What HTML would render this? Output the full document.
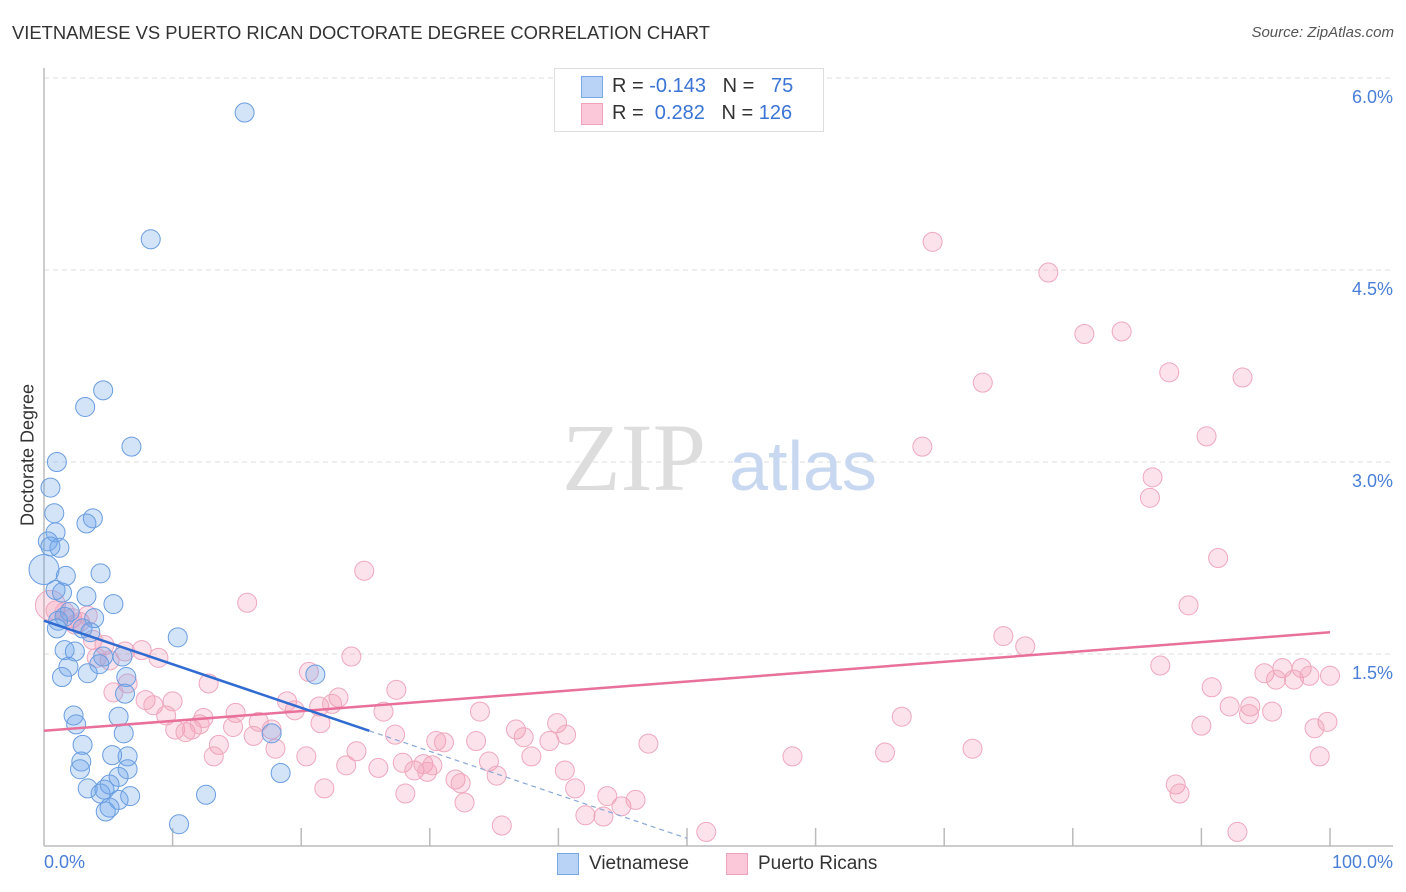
<!DOCTYPE html>
<html><head><meta charset="utf-8"><style>
body{margin:0;background:#fff;font-family:"Liberation Sans",sans-serif;}
#wrap{position:relative;width:1406px;height:892px;overflow:hidden;}
.t{position:absolute;white-space:nowrap;}
</style></head><body>
<div id="wrap">
<div class="t" style="left:12px;top:22px;font-size:18.4px;color:#333;">VIETNAMESE VS PUERTO RICAN DOCTORATE DEGREE CORRELATION CHART</div>
<div class="t" style="right:12px;top:24px;font-size:15px;color:#555;font-style:italic;">Source: ZipAtlas.com</div>
<svg id="svg" width="1406" height="892" style="position:absolute;left:0;top:0"></svg>
</div>
<script>
const blueX=[15.6,8.3,4.6,3.2,6.8,1.0,0.5,0.8,3.8,3.3,0.9,0.3,1.2,0.5,4.4,1.7,0.0,0.9,1.4,3.3,5.4,2.0,1.6,1.1,3.9,1.0,3.0,10.4,3.6,1.6,2.4,4.6,6.1,4.3,1.9,3.4,1.4,6.4,21.1,6.3,2.3,2.5,5.8,6.2,17.7,3.0,2.9,6.5,5.3,2.8,6.5,5.8,3.4,4.7,4.4,5.1,5.8,6.7,12.6,18.4,4.8,5.1,10.5];
const blueY=[5.73,4.74,3.56,3.43,3.12,3.00,2.80,2.60,2.56,2.52,2.45,2.38,2.33,2.34,2.13,2.11,2.16,2.00,1.98,1.95,1.89,1.83,1.79,1.76,1.78,1.70,1.70,1.63,1.67,1.53,1.52,1.48,1.48,1.42,1.40,1.35,1.32,1.32,1.34,1.19,1.02,0.95,1.01,0.88,0.88,0.79,0.66,0.70,0.71,0.60,0.60,0.54,0.45,0.44,0.41,0.48,0.36,0.39,0.40,0.57,0.27,0.30,0.17];
const pinkX=[69.1,78.1,80.9,83.8,73.0,87.5,93.2,68.3,90.4,86.2,86.0,91.3,24.9,15.8,89.0,74.6,76.3,86.8,94.9,96.3,97.8,100.0,95.8,97.2,98.4,90.8,92.2,93.8,95.5,93.7,99.8,90.0,98.8,99.2,88.0,88.3,92.8,66.7,72.2,65.4,58.2,47.0,51.5,0.5,0.9,1.6,2.2,2.8,3.4,2.4,3.8,4.7,4.1,5.1,6.3,7.6,8.9,6.5,5.4,12.8,7.9,8.5,10.0,9.5,10.2,11.0,11.5,12.1,12.4,13.6,13.2,14.9,14.7,16.7,16.3,18.0,17.7,18.9,19.5,20.6,21.4,22.9,22.4,23.9,21.5,20.4,21.8,24.3,23.5,26.0,26.4,27.4,27.3,28.1,27.9,28.8,29.5,29.8,30.2,30.5,31.1,32.0,32.4,32.7,33.6,33.9,34.6,35.2,35.6,36.7,37.3,37.9,39.3,39.9,40.5,40.6,41.3,42.1,43.5,43.8,44.9,46.0];
const pinkY=[4.72,4.48,4.00,4.02,3.62,3.70,3.66,3.12,3.20,2.88,2.72,2.25,2.15,1.90,1.88,1.64,1.56,1.41,1.35,1.39,1.39,1.33,1.30,1.30,1.33,1.24,1.09,1.09,1.05,1.03,0.97,0.94,0.92,0.70,0.48,0.41,0.11,1.01,0.76,0.73,0.70,0.80,0.11,1.88,1.84,1.83,1.78,1.75,1.80,1.73,1.61,1.57,1.47,1.45,1.52,1.53,1.47,1.27,1.20,1.27,1.14,1.10,1.13,1.02,0.91,0.89,0.91,0.95,1.00,0.79,0.70,1.04,0.93,0.97,0.86,0.76,0.91,1.13,1.06,1.36,1.09,1.16,1.11,1.48,0.96,0.70,0.45,0.74,0.63,0.61,1.05,1.22,0.87,0.41,0.65,0.59,0.64,0.58,0.63,0.82,0.81,0.52,0.49,0.34,0.82,1.05,0.66,0.55,0.16,0.91,0.85,0.70,0.82,0.96,0.59,0.87,0.45,0.24,0.23,0.39,0.31,0.36];
const yTicks=[1.5,3.0,4.5,6.0];
const yTickLabels=["1.5%","3.0%","4.5%","6.0%"];
const blueTrend=[1.76,-0.034]; // intercept, slope
const pinkTrend=[0.90,0.0077];
const blueSolidEnd=25.3, blueDashEnd=50;
const blueBigIdx=16, pinkBigIdx=43;

const X0=44,X1=1330,Y0=846,PY=128;
const sx=v=>X0+(X1-X0)*v/100;
const sy=v=>Y0-PY*v;
const svg=document.getElementById('svg');
const NS='http://www.w3.org/2000/svg';
function mk(tag,attrs){const e=document.createElementNS(NS,tag);for(const k in attrs)e.setAttribute(k,attrs[k]);svg.appendChild(e);return e;}

yTicks.forEach((t,i)=>{
  const g=mk('line',{x1:X0,x2:1393,y1:sy(t),y2:sy(t),stroke:'#ddd','stroke-dasharray':'5,4'});
  
  
  const tx=mk('text',{x:1393,y:sy(t)+25,'text-anchor':'end','font-size':18,fill:'#4a7fd8','font-family':'Liberation Sans, sans-serif'});
  tx.textContent=yTickLabels[i];
  
  
});
let a=mk('line',{x1:X0,x2:X0,y1:68,y2:Y0,stroke:'#bbb','stroke-width':1.5});


a=mk('line',{x1:X0,x2:1393,y1:Y0,y2:Y0,stroke:'#bbb','stroke-width':1.5});


for(let i=1;i<=10;i++){const tk=mk('line',{x1:sx(i*10),x2:sx(i*10),y1:Y0,y2:Y0-18,stroke:'#bbb','stroke-width':1.5});

}

let w=mk('text',{x:634,y:490,'text-anchor':'middle','font-size':96,fill:'#ddd','font-family':'Liberation Serif, serif'});w.textContent='ZIP';


w=mk('text',{x:803,y:490,'text-anchor':'middle','font-size':70,fill:'#c8d8f0','font-family':'Liberation Sans, sans-serif'});w.textContent='atlas';



function pts(xs,ys,fill,stroke,name,big){xs.forEach((x,i)=>{const r=(i===big)?15:9.5;
const c=mk('circle',{cx:sx(x),cy:sy(ys[i]),r:r,fill:fill,stroke:stroke,'stroke-width':1});

});}
pts(pinkX,pinkY,'rgba(244,150,180,0.28)','#efa8be','point-puerto-rican',pinkBigIdx);
pts(blueX,blueY,'rgba(110,165,235,0.30)','#6a9de0','point-vietnamese',blueBigIdx);

let l=mk('line',{x1:sx(0),y1:sy(pinkTrend[0]),x2:sx(100),y2:sy(pinkTrend[0]+pinkTrend[1]*100),stroke:'#e8709a','stroke-width':2.5});


l=mk('line',{x1:sx(0),y1:sy(blueTrend[0]),x2:sx(blueSolidEnd),y2:sy(blueTrend[0]+blueTrend[1]*blueSolidEnd),stroke:'#2f6bd0','stroke-width':2.5});


l=mk('line',{x1:sx(blueSolidEnd),y1:sy(blueTrend[0]+blueTrend[1]*blueSolidEnd),x2:sx(blueDashEnd),y2:sy(blueTrend[0]+blueTrend[1]*blueDashEnd),stroke:'#8aa8d8','stroke-width':1.2,'stroke-dasharray':'5,4'});


</script>
<div class="t" style="left:18px;top:455px;transform:translate(-50%,-50%) rotate(-90deg);transform-origin:center;font-size:18px;color:#333;margin-left:10px;">Doctorate Degree</div>
<div class="t" style="left:44px;top:852px;font-size:18px;color:#4a7fd8;">0.0%</div>
<div class="t" style="right:13px;top:852px;font-size:18px;color:#4a7fd8;">100.0%</div>
<div style="position:absolute;left:554px;top:68px;width:268px;height:62px;border:1px solid #ddd;background:#fff;font-size:20px;">
 <div style="position:absolute;left:26px;top:7px;width:20px;height:20px;background:#b8d3f5;border:1px solid #7aa8e6;"></div>
 <div class="t" style="left:57px;top:6px;color:#333;">R = <span style="color:#3a74d4">-0.143</span>&nbsp;&nbsp;&nbsp;N = &nbsp;<span style="color:#3a74d4">&nbsp;75</span></div>
 <div style="position:absolute;left:26px;top:34px;width:20px;height:20px;background:#fac8d8;border:1px solid #eea3bb;"></div>
 <div class="t" style="left:57px;top:33px;color:#333;">R = &nbsp;<span style="color:#3a74d4">0.282</span>&nbsp;&nbsp;&nbsp;N = <span style="color:#3a74d4">126</span></div>
</div>
<div style="position:absolute;left:557px;top:853px;width:20px;height:20px;background:#b8d3f5;border:1px solid #7aa8e6;"></div>
<div class="t" style="left:589px;top:853px;font-size:19px;color:#333;">Vietnamese</div>
<div style="position:absolute;left:726px;top:853px;width:20px;height:20px;background:#fac8d8;border:1px solid #eea3bb;"></div>
<div class="t" style="left:758px;top:853px;font-size:19px;color:#333;">Puerto Ricans</div>
</body></html>
